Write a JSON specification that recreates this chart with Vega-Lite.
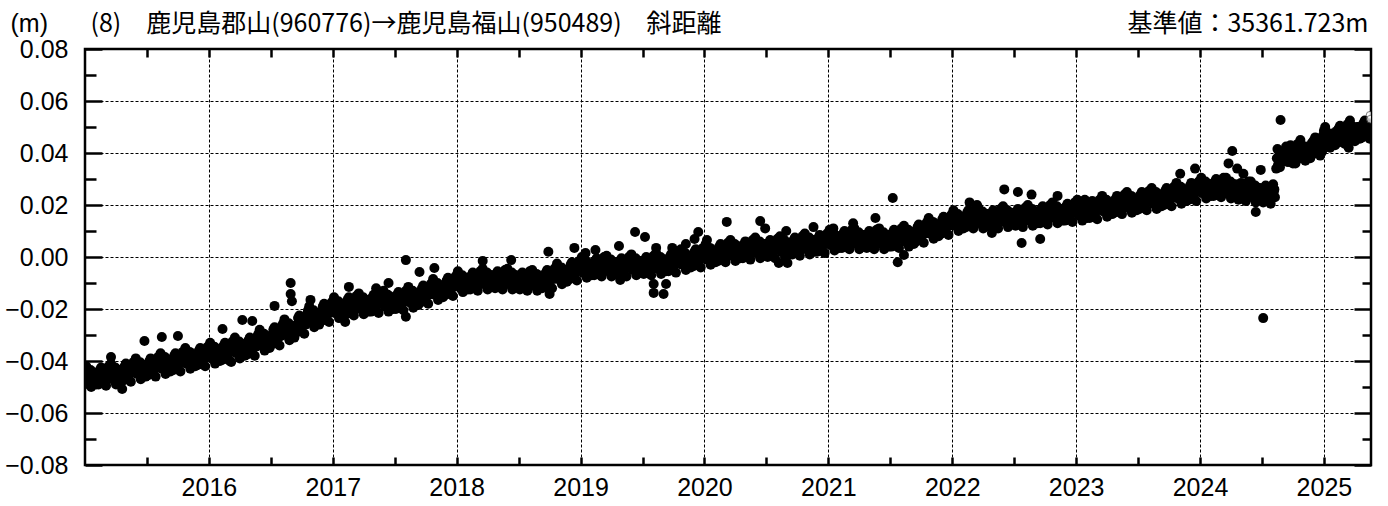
{
"$schema":"https://vega.github.io/schema/vega-lite/v6.json",
"width":1286,"height":416,
"autosize":{"type":"none"},
"padding":{"left":85,"top":49,"right":17,"bottom":41},
"background":"white",
"config":{"view":{"stroke":"black","strokeWidth":2.5}},
"datasets":{"d":[
{"t":2015.00,"v":-0.0435},{"t":2015.02,"v":-0.048},{"t":2015.04,"v":-0.0455},{"t":2015.06,"v":-0.0485},{"t":2015.08,"v":-0.0445},
{"t":2015.10,"v":-0.0465},{"t":2015.12,"v":-0.0435},{"t":2015.14,"v":-0.0485},{"t":2015.16,"v":-0.0445},{"t":2015.18,"v":-0.046},
{"t":2015.20,"v":-0.0425},{"t":2015.22,"v":-0.047},{"t":2015.24,"v":-0.0445},{"t":2015.26,"v":-0.0475},{"t":2015.28,"v":-0.0435},
{"t":2015.30,"v":-0.045},{"t":2015.32,"v":-0.042},{"t":2015.34,"v":-0.047},{"t":2015.36,"v":-0.043},{"t":2015.38,"v":-0.0445},
{"t":2015.40,"v":-0.0405},{"t":2015.42,"v":-0.045},{"t":2015.44,"v":-0.0425},{"t":2015.46,"v":-0.0455},{"t":2015.48,"v":-0.0415},
{"t":2015.50,"v":-0.043},{"t":2015.52,"v":-0.040},{"t":2015.54,"v":-0.045},{"t":2015.56,"v":-0.041},{"t":2015.58,"v":-0.0425},
{"t":2015.60,"v":-0.0385},{"t":2015.62,"v":-0.043},{"t":2015.64,"v":-0.0405},{"t":2015.66,"v":-0.0435},{"t":2015.68,"v":-0.0395},
{"t":2015.70,"v":-0.041},{"t":2015.72,"v":-0.038},{"t":2015.74,"v":-0.043},{"t":2015.76,"v":-0.039},{"t":2015.78,"v":-0.0405},
{"t":2015.80,"v":-0.0365},{"t":2015.82,"v":-0.041},{"t":2015.84,"v":-0.0385},{"t":2015.86,"v":-0.0415},{"t":2015.88,"v":-0.0375},
{"t":2015.90,"v":-0.039},{"t":2015.92,"v":-0.036},{"t":2015.94,"v":-0.041},{"t":2015.96,"v":-0.037},{"t":2015.98,"v":-0.0385},
{"t":2016.00,"v":-0.0345},{"t":2016.02,"v":-0.039},{"t":2016.04,"v":-0.0365},{"t":2016.06,"v":-0.0395},{"t":2016.08,"v":-0.0355},
{"t":2016.10,"v":-0.037},{"t":2016.12,"v":-0.034},{"t":2016.14,"v":-0.039},{"t":2016.16,"v":-0.035},{"t":2016.18,"v":-0.0365},
{"t":2016.20,"v":-0.0325},{"t":2016.22,"v":-0.037},{"t":2016.24,"v":-0.0345},{"t":2016.26,"v":-0.0375},{"t":2016.28,"v":-0.0335},
{"t":2016.30,"v":-0.035},{"t":2016.32,"v":-0.032},{"t":2016.34,"v":-0.037},{"t":2016.36,"v":-0.033},{"t":2016.38,"v":-0.0345},
{"t":2016.40,"v":-0.0295},{"t":2016.42,"v":-0.034},{"t":2016.44,"v":-0.0315},{"t":2016.46,"v":-0.0345},{"t":2016.48,"v":-0.0305},
{"t":2016.50,"v":-0.031},{"t":2016.52,"v":-0.028},{"t":2016.54,"v":-0.033},{"t":2016.56,"v":-0.029},{"t":2016.58,"v":-0.0305},
{"t":2016.60,"v":-0.0255},{"t":2016.62,"v":-0.030},{"t":2016.64,"v":-0.0275},{"t":2016.66,"v":-0.0305},{"t":2016.68,"v":-0.0265},
{"t":2016.70,"v":-0.0265},{"t":2016.72,"v":-0.0235},{"t":2016.74,"v":-0.0285},{"t":2016.76,"v":-0.0245},{"t":2016.78,"v":-0.026},
{"t":2016.80,"v":-0.0205},{"t":2016.82,"v":-0.025},{"t":2016.84,"v":-0.0225},{"t":2016.86,"v":-0.0255},{"t":2016.88,"v":-0.0215},
{"t":2016.90,"v":-0.022},{"t":2016.92,"v":-0.019},{"t":2016.94,"v":-0.024},{"t":2016.96,"v":-0.020},{"t":2016.98,"v":-0.0215},
{"t":2017.00,"v":-0.017},{"t":2017.02,"v":-0.0215},{"t":2017.04,"v":-0.019},{"t":2017.06,"v":-0.022},{"t":2017.08,"v":-0.018},
{"t":2017.10,"v":-0.0195},{"t":2017.12,"v":-0.0165},{"t":2017.14,"v":-0.0215},{"t":2017.16,"v":-0.0175},{"t":2017.18,"v":-0.019},
{"t":2017.20,"v":-0.0155},{"t":2017.22,"v":-0.020},{"t":2017.24,"v":-0.0175},{"t":2017.26,"v":-0.0205},{"t":2017.28,"v":-0.0165},
{"t":2017.30,"v":-0.0185},{"t":2017.32,"v":-0.0155},{"t":2017.34,"v":-0.0205},{"t":2017.36,"v":-0.0165},{"t":2017.38,"v":-0.018},
{"t":2017.40,"v":-0.0145},{"t":2017.42,"v":-0.019},{"t":2017.44,"v":-0.0165},{"t":2017.46,"v":-0.0195},{"t":2017.48,"v":-0.0155},
{"t":2017.50,"v":-0.0175},{"t":2017.52,"v":-0.0145},{"t":2017.54,"v":-0.0195},{"t":2017.56,"v":-0.0155},{"t":2017.58,"v":-0.017},
{"t":2017.60,"v":-0.013},{"t":2017.62,"v":-0.0175},{"t":2017.64,"v":-0.015},{"t":2017.66,"v":-0.018},{"t":2017.68,"v":-0.014},
{"t":2017.70,"v":-0.015},{"t":2017.72,"v":-0.012},{"t":2017.74,"v":-0.017},{"t":2017.76,"v":-0.013},{"t":2017.78,"v":-0.0145},
{"t":2017.80,"v":-0.010},{"t":2017.82,"v":-0.0145},{"t":2017.84,"v":-0.012},{"t":2017.86,"v":-0.015},{"t":2017.88,"v":-0.011},
{"t":2017.90,"v":-0.012},{"t":2017.92,"v":-0.009},{"t":2017.94,"v":-0.014},{"t":2017.96,"v":-0.010},{"t":2017.98,"v":-0.0115},
{"t":2018.00,"v":-0.007},{"t":2018.02,"v":-0.0115},{"t":2018.04,"v":-0.009},{"t":2018.06,"v":-0.012},{"t":2018.08,"v":-0.008},
{"t":2018.10,"v":-0.010},{"t":2018.12,"v":-0.007},{"t":2018.14,"v":-0.012},{"t":2018.16,"v":-0.008},{"t":2018.18,"v":-0.0095},
{"t":2018.20,"v":-0.006},{"t":2018.22,"v":-0.0105},{"t":2018.24,"v":-0.008},{"t":2018.26,"v":-0.011},{"t":2018.28,"v":-0.007},
{"t":2018.30,"v":-0.0095},{"t":2018.32,"v":-0.0065},{"t":2018.34,"v":-0.0115},{"t":2018.36,"v":-0.0075},{"t":2018.38,"v":-0.009},
{"t":2018.40,"v":-0.006},{"t":2018.42,"v":-0.0105},{"t":2018.44,"v":-0.008},{"t":2018.46,"v":-0.011},{"t":2018.48,"v":-0.007},
{"t":2018.50,"v":-0.010},{"t":2018.52,"v":-0.007},{"t":2018.54,"v":-0.012},{"t":2018.56,"v":-0.008},{"t":2018.58,"v":-0.0095},
{"t":2018.60,"v":-0.0065},{"t":2018.62,"v":-0.011},{"t":2018.64,"v":-0.0085},{"t":2018.66,"v":-0.0115},{"t":2018.68,"v":-0.0075},
{"t":2018.70,"v":-0.009},{"t":2018.72,"v":-0.006},{"t":2018.74,"v":-0.011},{"t":2018.76,"v":-0.007},{"t":2018.78,"v":-0.0085},
{"t":2018.80,"v":-0.004},{"t":2018.82,"v":-0.0085},{"t":2018.84,"v":-0.006},{"t":2018.86,"v":-0.009},{"t":2018.88,"v":-0.005},
{"t":2018.90,"v":-0.006},{"t":2018.92,"v":-0.003},{"t":2018.94,"v":-0.008},{"t":2018.96,"v":-0.004},{"t":2018.98,"v":-0.0055},
{"t":2019.00,"v":-0.0015},{"t":2019.02,"v":-0.006},{"t":2019.04,"v":-0.0035},{"t":2019.06,"v":-0.0065},{"t":2019.08,"v":-0.0025},
{"t":2019.10,"v":-0.0045},{"t":2019.12,"v":-0.0015},{"t":2019.14,"v":-0.0065},{"t":2019.16,"v":-0.0025},{"t":2019.18,"v":-0.004},
{"t":2019.20,"v":-0.001},{"t":2019.22,"v":-0.0055},{"t":2019.24,"v":-0.003},{"t":2019.26,"v":-0.006},{"t":2019.28,"v":-0.002},
{"t":2019.30,"v":-0.0045},{"t":2019.32,"v":-0.0015},{"t":2019.34,"v":-0.0065},{"t":2019.36,"v":-0.0025},{"t":2019.38,"v":-0.004},
{"t":2019.40,"v":-0.0005},{"t":2019.42,"v":-0.005},{"t":2019.44,"v":-0.0025},{"t":2019.46,"v":-0.0055},{"t":2019.48,"v":-0.0015},
{"t":2019.50,"v":-0.004},{"t":2019.52,"v":-0.001},{"t":2019.54,"v":-0.006},{"t":2019.56,"v":-0.002},{"t":2019.58,"v":-0.0035},
{"t":2019.60,"v":0.0},{"t":2019.62,"v":-0.0045},{"t":2019.64,"v":-0.002},{"t":2019.66,"v":-0.005},{"t":2019.68,"v":-0.001},
{"t":2019.70,"v":-0.003},{"t":2019.72,"v":0.0},{"t":2019.74,"v":-0.005},{"t":2019.76,"v":-0.001},{"t":2019.78,"v":-0.0025},
{"t":2019.80,"v":0.0015},{"t":2019.82,"v":-0.003},{"t":2019.84,"v":-0.0005},{"t":2019.86,"v":-0.0035},{"t":2019.88,"v":0.0005},
{"t":2019.90,"v":-0.001},{"t":2019.92,"v":0.002},{"t":2019.94,"v":-0.003},{"t":2019.96,"v":0.001},{"t":2019.98,"v":-0.0005},
{"t":2020.00,"v":0.0035},{"t":2020.02,"v":-0.001},{"t":2020.04,"v":0.0015},{"t":2020.06,"v":-0.0015},{"t":2020.08,"v":0.0025},
{"t":2020.10,"v":0.001},{"t":2020.12,"v":0.004},{"t":2020.14,"v":-0.001},{"t":2020.16,"v":0.003},{"t":2020.18,"v":0.0015},
{"t":2020.20,"v":0.005},{"t":2020.22,"v":0.0005},{"t":2020.24,"v":0.003},{"t":2020.26,"v":0.0},{"t":2020.28,"v":0.004},
{"t":2020.30,"v":0.002},{"t":2020.32,"v":0.005},{"t":2020.34,"v":0.0},{"t":2020.36,"v":0.004},{"t":2020.38,"v":0.0025},
{"t":2020.40,"v":0.006},{"t":2020.42,"v":0.0015},{"t":2020.44,"v":0.004},{"t":2020.46,"v":0.001},{"t":2020.48,"v":0.005},
{"t":2020.50,"v":0.0025},{"t":2020.52,"v":0.0055},{"t":2020.54,"v":0.0005},{"t":2020.56,"v":0.0045},{"t":2020.58,"v":0.003},
{"t":2020.60,"v":0.0065},{"t":2020.62,"v":0.002},{"t":2020.64,"v":0.0045},{"t":2020.66,"v":0.0015},{"t":2020.68,"v":0.0055},
{"t":2020.70,"v":0.0035},{"t":2020.72,"v":0.0065},{"t":2020.74,"v":0.0015},{"t":2020.76,"v":0.0055},{"t":2020.78,"v":0.004},
{"t":2020.80,"v":0.0075},{"t":2020.82,"v":0.003},{"t":2020.84,"v":0.0055},{"t":2020.86,"v":0.0025},{"t":2020.88,"v":0.0065},
{"t":2020.90,"v":0.0045},{"t":2020.92,"v":0.0075},{"t":2020.94,"v":0.0025},{"t":2020.96,"v":0.0065},{"t":2020.98,"v":0.005},
{"t":2021.00,"v":0.009},{"t":2021.02,"v":0.0045},{"t":2021.04,"v":0.007},{"t":2021.06,"v":0.004},{"t":2021.08,"v":0.008},
{"t":2021.10,"v":0.006},{"t":2021.12,"v":0.009},{"t":2021.14,"v":0.004},{"t":2021.16,"v":0.008},{"t":2021.18,"v":0.0065},
{"t":2021.20,"v":0.0095},{"t":2021.22,"v":0.005},{"t":2021.24,"v":0.0075},{"t":2021.26,"v":0.0045},{"t":2021.28,"v":0.0085},
{"t":2021.30,"v":0.006},{"t":2021.32,"v":0.009},{"t":2021.34,"v":0.004},{"t":2021.36,"v":0.008},{"t":2021.38,"v":0.0065},
{"t":2021.40,"v":0.0095},{"t":2021.42,"v":0.005},{"t":2021.44,"v":0.0075},{"t":2021.46,"v":0.0045},{"t":2021.48,"v":0.0085},
{"t":2021.50,"v":0.0065},{"t":2021.52,"v":0.0095},{"t":2021.54,"v":0.0045},{"t":2021.56,"v":0.0085},{"t":2021.58,"v":0.007},
{"t":2021.60,"v":0.0105},{"t":2021.62,"v":0.006},{"t":2021.64,"v":0.0085},{"t":2021.66,"v":0.0055},{"t":2021.68,"v":0.0095},
{"t":2021.70,"v":0.0085},{"t":2021.72,"v":0.0115},{"t":2021.74,"v":0.0065},{"t":2021.76,"v":0.0105},{"t":2021.78,"v":0.009},
{"t":2021.80,"v":0.0135},{"t":2021.82,"v":0.009},{"t":2021.84,"v":0.0115},{"t":2021.86,"v":0.0085},{"t":2021.88,"v":0.0125},
{"t":2021.90,"v":0.0115},{"t":2021.92,"v":0.0145},{"t":2021.94,"v":0.0095},{"t":2021.96,"v":0.0135},{"t":2021.98,"v":0.012},
{"t":2022.00,"v":0.0165},{"t":2022.02,"v":0.012},{"t":2022.04,"v":0.0145},{"t":2022.06,"v":0.0115},{"t":2022.08,"v":0.0155},
{"t":2022.10,"v":0.014},{"t":2022.12,"v":0.017},{"t":2022.14,"v":0.012},{"t":2022.16,"v":0.016},{"t":2022.18,"v":0.0145},
{"t":2022.20,"v":0.0175},{"t":2022.22,"v":0.013},{"t":2022.24,"v":0.0155},{"t":2022.26,"v":0.0125},{"t":2022.28,"v":0.0165},
{"t":2022.30,"v":0.014},{"t":2022.32,"v":0.017},{"t":2022.34,"v":0.012},{"t":2022.36,"v":0.016},{"t":2022.38,"v":0.0145},
{"t":2022.40,"v":0.018},{"t":2022.42,"v":0.0135},{"t":2022.44,"v":0.016},{"t":2022.46,"v":0.013},{"t":2022.48,"v":0.017},
{"t":2022.50,"v":0.0145},{"t":2022.52,"v":0.0175},{"t":2022.54,"v":0.0125},{"t":2022.56,"v":0.0165},{"t":2022.58,"v":0.015},
{"t":2022.60,"v":0.0185},{"t":2022.62,"v":0.014},{"t":2022.64,"v":0.0165},{"t":2022.66,"v":0.0135},{"t":2022.68,"v":0.0175},
{"t":2022.70,"v":0.0155},{"t":2022.72,"v":0.0185},{"t":2022.74,"v":0.0135},{"t":2022.76,"v":0.0175},{"t":2022.78,"v":0.016},
{"t":2022.80,"v":0.0195},{"t":2022.82,"v":0.015},{"t":2022.84,"v":0.0175},{"t":2022.86,"v":0.0145},{"t":2022.88,"v":0.0185},
{"t":2022.90,"v":0.0165},{"t":2022.92,"v":0.0195},{"t":2022.94,"v":0.0145},{"t":2022.96,"v":0.0185},{"t":2022.98,"v":0.017},
{"t":2023.00,"v":0.0205},{"t":2023.02,"v":0.016},{"t":2023.04,"v":0.0185},{"t":2023.06,"v":0.0155},{"t":2023.08,"v":0.0195},
{"t":2023.10,"v":0.0175},{"t":2023.12,"v":0.0205},{"t":2023.14,"v":0.0155},{"t":2023.16,"v":0.0195},{"t":2023.18,"v":0.018},
{"t":2023.20,"v":0.022},{"t":2023.22,"v":0.0175},{"t":2023.24,"v":0.020},{"t":2023.26,"v":0.017},{"t":2023.28,"v":0.021},
{"t":2023.30,"v":0.0195},{"t":2023.32,"v":0.0225},{"t":2023.34,"v":0.0175},{"t":2023.36,"v":0.0215},{"t":2023.38,"v":0.020},
{"t":2023.40,"v":0.0235},{"t":2023.42,"v":0.019},{"t":2023.44,"v":0.0215},{"t":2023.46,"v":0.0185},{"t":2023.48,"v":0.0225},
{"t":2023.50,"v":0.021},{"t":2023.52,"v":0.024},{"t":2023.54,"v":0.019},{"t":2023.56,"v":0.023},{"t":2023.58,"v":0.0215},
{"t":2023.60,"v":0.025},{"t":2023.62,"v":0.0205},{"t":2023.64,"v":0.023},{"t":2023.66,"v":0.020},{"t":2023.68,"v":0.024},
{"t":2023.70,"v":0.0225},{"t":2023.72,"v":0.0255},{"t":2023.74,"v":0.0205},{"t":2023.76,"v":0.0245},{"t":2023.78,"v":0.023},
{"t":2023.80,"v":0.027},{"t":2023.82,"v":0.0225},{"t":2023.84,"v":0.025},{"t":2023.86,"v":0.022},{"t":2023.88,"v":0.026},
{"t":2023.90,"v":0.0245},{"t":2023.92,"v":0.0275},{"t":2023.94,"v":0.0225},{"t":2023.96,"v":0.0265},{"t":2023.98,"v":0.025},
{"t":2024.00,"v":0.029},{"t":2024.02,"v":0.0245},{"t":2024.04,"v":0.027},{"t":2024.06,"v":0.024},{"t":2024.08,"v":0.028},
{"t":2024.10,"v":0.026},{"t":2024.12,"v":0.029},{"t":2024.14,"v":0.024},{"t":2024.16,"v":0.028},{"t":2024.18,"v":0.0265},
{"t":2024.20,"v":0.029},{"t":2024.22,"v":0.0245},{"t":2024.24,"v":0.027},{"t":2024.26,"v":0.024},{"t":2024.28,"v":0.028},
{"t":2024.30,"v":0.0245},{"t":2024.32,"v":0.0275},{"t":2024.34,"v":0.0225},{"t":2024.36,"v":0.0265},{"t":2024.38,"v":0.025},
{"t":2024.40,"v":0.0275},{"t":2024.42,"v":0.023},{"t":2024.44,"v":0.0255},{"t":2024.46,"v":0.0225},{"t":2024.48,"v":0.0265},
{"t":2024.50,"v":0.0235},{"t":2024.52,"v":0.0265},{"t":2024.54,"v":0.0215},{"t":2024.56,"v":0.0255},{"t":2024.58,"v":0.024},
{"t":2024.60,"v":0.026},{"t":2024.605,"v":0.023},
{"t":2024.615,"v":0.034},{"t":2024.62,"v":0.038},{"t":2024.63,"v":0.0355},{"t":2024.64,"v":0.039},{"t":2024.66,"v":0.0365},{"t":2024.68,"v":0.0405},
{"t":2024.70,"v":0.039},{"t":2024.72,"v":0.042},{"t":2024.74,"v":0.037},{"t":2024.76,"v":0.041},{"t":2024.78,"v":0.0395},
{"t":2024.80,"v":0.0435},{"t":2024.82,"v":0.039},{"t":2024.84,"v":0.0415},{"t":2024.86,"v":0.0385},{"t":2024.88,"v":0.0425},
{"t":2024.90,"v":0.042},{"t":2024.92,"v":0.045},{"t":2024.94,"v":0.040},{"t":2024.96,"v":0.044},{"t":2024.98,"v":0.0425},
{"t":2025.00,"v":0.0485},{"t":2025.02,"v":0.044},{"t":2025.04,"v":0.0465},{"t":2025.06,"v":0.0435},{"t":2025.08,"v":0.0475},
{"t":2025.10,"v":0.0465},{"t":2025.12,"v":0.0495},{"t":2025.14,"v":0.0445},{"t":2025.16,"v":0.0485},{"t":2025.18,"v":0.047},
{"t":2025.20,"v":0.051},{"t":2025.22,"v":0.0465},{"t":2025.24,"v":0.049},{"t":2025.26,"v":0.046},{"t":2025.28,"v":0.050},
{"t":2025.30,"v":0.0485},{"t":2025.32,"v":0.0515},{"t":2025.34,"v":0.0465},{"t":2025.36,"v":0.0505},{"t":2025.37,"v":0.0485},
{"t":2015.01,"v":-0.042},{"t":2015.03,"v":-0.047},{"t":2015.05,"v":-0.050},{"t":2015.07,"v":-0.0445},{"t":2015.09,"v":-0.049},
{"t":2015.11,"v":-0.049},{"t":2015.13,"v":-0.0425},{"t":2015.15,"v":-0.0455},{"t":2015.17,"v":-0.0495},{"t":2015.19,"v":-0.042},
{"t":2015.21,"v":-0.041},{"t":2015.23,"v":-0.046},{"t":2015.25,"v":-0.049},{"t":2015.27,"v":-0.0435},{"t":2015.29,"v":-0.048},
{"t":2015.31,"v":-0.0475},{"t":2015.33,"v":-0.041},{"t":2015.35,"v":-0.044},{"t":2015.37,"v":-0.048},{"t":2015.39,"v":-0.0405},
{"t":2015.41,"v":-0.039},{"t":2015.43,"v":-0.044},{"t":2015.45,"v":-0.047},{"t":2015.47,"v":-0.0415},{"t":2015.49,"v":-0.046},
{"t":2015.51,"v":-0.0455},{"t":2015.53,"v":-0.039},{"t":2015.55,"v":-0.042},{"t":2015.57,"v":-0.046},{"t":2015.59,"v":-0.0385},
{"t":2015.61,"v":-0.037},{"t":2015.63,"v":-0.042},{"t":2015.65,"v":-0.045},{"t":2015.67,"v":-0.0395},{"t":2015.69,"v":-0.044},
{"t":2015.71,"v":-0.0435},{"t":2015.73,"v":-0.037},{"t":2015.75,"v":-0.040},{"t":2015.77,"v":-0.044},{"t":2015.79,"v":-0.0365},
{"t":2015.81,"v":-0.035},{"t":2015.83,"v":-0.040},{"t":2015.85,"v":-0.043},{"t":2015.87,"v":-0.0375},{"t":2015.89,"v":-0.042},
{"t":2015.91,"v":-0.0415},{"t":2015.93,"v":-0.035},{"t":2015.95,"v":-0.038},{"t":2015.97,"v":-0.042},{"t":2015.99,"v":-0.0345},
{"t":2016.01,"v":-0.033},{"t":2016.03,"v":-0.038},{"t":2016.05,"v":-0.041},{"t":2016.07,"v":-0.0355},{"t":2016.09,"v":-0.040},
{"t":2016.11,"v":-0.0395},{"t":2016.13,"v":-0.033},{"t":2016.15,"v":-0.036},{"t":2016.17,"v":-0.040},{"t":2016.19,"v":-0.0325},
{"t":2016.21,"v":-0.031},{"t":2016.23,"v":-0.036},{"t":2016.25,"v":-0.039},{"t":2016.27,"v":-0.0335},{"t":2016.29,"v":-0.038},
{"t":2016.31,"v":-0.0375},{"t":2016.33,"v":-0.031},{"t":2016.35,"v":-0.034},{"t":2016.37,"v":-0.038},{"t":2016.39,"v":-0.0305},
{"t":2016.41,"v":-0.028},{"t":2016.43,"v":-0.033},{"t":2016.45,"v":-0.036},{"t":2016.47,"v":-0.0305},{"t":2016.49,"v":-0.035},
{"t":2016.51,"v":-0.0335},{"t":2016.53,"v":-0.027},{"t":2016.55,"v":-0.030},{"t":2016.57,"v":-0.034},{"t":2016.59,"v":-0.0265},
{"t":2016.61,"v":-0.024},{"t":2016.63,"v":-0.029},{"t":2016.65,"v":-0.032},{"t":2016.67,"v":-0.0265},{"t":2016.69,"v":-0.031},
{"t":2016.71,"v":-0.029},{"t":2016.73,"v":-0.0225},{"t":2016.75,"v":-0.0255},{"t":2016.77,"v":-0.0295},{"t":2016.79,"v":-0.022},
{"t":2016.81,"v":-0.019},{"t":2016.83,"v":-0.024},{"t":2016.85,"v":-0.027},{"t":2016.87,"v":-0.0215},{"t":2016.89,"v":-0.026},
{"t":2016.91,"v":-0.0245},{"t":2016.93,"v":-0.018},{"t":2016.95,"v":-0.021},{"t":2016.97,"v":-0.025},{"t":2016.99,"v":-0.0175},
{"t":2017.01,"v":-0.0155},{"t":2017.03,"v":-0.0205},{"t":2017.05,"v":-0.0235},{"t":2017.07,"v":-0.018},{"t":2017.09,"v":-0.0225},
{"t":2017.11,"v":-0.022},{"t":2017.13,"v":-0.0155},{"t":2017.15,"v":-0.0185},{"t":2017.17,"v":-0.0225},{"t":2017.19,"v":-0.015},
{"t":2017.21,"v":-0.014},{"t":2017.23,"v":-0.019},{"t":2017.25,"v":-0.022},{"t":2017.27,"v":-0.0165},{"t":2017.29,"v":-0.021},
{"t":2017.31,"v":-0.021},{"t":2017.33,"v":-0.0145},{"t":2017.35,"v":-0.0175},{"t":2017.37,"v":-0.0215},{"t":2017.39,"v":-0.014},
{"t":2017.41,"v":-0.013},{"t":2017.43,"v":-0.018},{"t":2017.45,"v":-0.021},{"t":2017.47,"v":-0.0155},{"t":2017.49,"v":-0.020},
{"t":2017.51,"v":-0.020},{"t":2017.53,"v":-0.0135},{"t":2017.55,"v":-0.0165},{"t":2017.57,"v":-0.0205},{"t":2017.59,"v":-0.013},
{"t":2017.61,"v":-0.0115},{"t":2017.63,"v":-0.0165},{"t":2017.65,"v":-0.0195},{"t":2017.67,"v":-0.014},{"t":2017.69,"v":-0.0185},
{"t":2017.71,"v":-0.0175},{"t":2017.73,"v":-0.011},{"t":2017.75,"v":-0.014},{"t":2017.77,"v":-0.018},{"t":2017.79,"v":-0.0105},
{"t":2017.81,"v":-0.0085},{"t":2017.83,"v":-0.0135},{"t":2017.85,"v":-0.0165},{"t":2017.87,"v":-0.011},{"t":2017.89,"v":-0.0155},
{"t":2017.91,"v":-0.0145},{"t":2017.93,"v":-0.008},{"t":2017.95,"v":-0.011},{"t":2017.97,"v":-0.015},{"t":2017.99,"v":-0.0075},
{"t":2018.01,"v":-0.0055},{"t":2018.03,"v":-0.0105},{"t":2018.05,"v":-0.0135},{"t":2018.07,"v":-0.008},{"t":2018.09,"v":-0.0125},
{"t":2018.11,"v":-0.0125},{"t":2018.13,"v":-0.006},{"t":2018.15,"v":-0.009},{"t":2018.17,"v":-0.013},{"t":2018.19,"v":-0.0055},
{"t":2018.21,"v":-0.0045},{"t":2018.23,"v":-0.0095},{"t":2018.25,"v":-0.0125},{"t":2018.27,"v":-0.007},{"t":2018.29,"v":-0.0115},
{"t":2018.31,"v":-0.012},{"t":2018.33,"v":-0.0055},{"t":2018.35,"v":-0.0085},{"t":2018.37,"v":-0.0125},{"t":2018.39,"v":-0.005},
{"t":2018.41,"v":-0.0045},{"t":2018.43,"v":-0.0095},{"t":2018.45,"v":-0.0125},{"t":2018.47,"v":-0.007},{"t":2018.49,"v":-0.0115},
{"t":2018.51,"v":-0.0125},{"t":2018.53,"v":-0.006},{"t":2018.55,"v":-0.009},{"t":2018.57,"v":-0.013},{"t":2018.59,"v":-0.0055},
{"t":2018.61,"v":-0.005},{"t":2018.63,"v":-0.010},{"t":2018.65,"v":-0.013},{"t":2018.67,"v":-0.0075},{"t":2018.69,"v":-0.012},
{"t":2018.71,"v":-0.0115},{"t":2018.73,"v":-0.005},{"t":2018.75,"v":-0.008},{"t":2018.77,"v":-0.012},{"t":2018.79,"v":-0.0045},
{"t":2018.81,"v":-0.0025},{"t":2018.83,"v":-0.0075},{"t":2018.85,"v":-0.0105},{"t":2018.87,"v":-0.005},{"t":2018.89,"v":-0.0095},
{"t":2018.91,"v":-0.0085},{"t":2018.93,"v":-0.002},{"t":2018.95,"v":-0.005},{"t":2018.97,"v":-0.009},{"t":2018.99,"v":-0.0015},
{"t":2019.01,"v":0.0},{"t":2019.03,"v":-0.005},{"t":2019.05,"v":-0.008},{"t":2019.07,"v":-0.0025},{"t":2019.09,"v":-0.007},
{"t":2019.11,"v":-0.007},{"t":2019.13,"v":-0.0005},{"t":2019.15,"v":-0.0035},{"t":2019.17,"v":-0.0075},{"t":2019.19,"v":0.0},
{"t":2019.21,"v":0.0005},{"t":2019.23,"v":-0.0045},{"t":2019.25,"v":-0.0075},{"t":2019.27,"v":-0.002},{"t":2019.29,"v":-0.0065},
{"t":2019.31,"v":-0.007},{"t":2019.33,"v":-0.0005},{"t":2019.35,"v":-0.0035},{"t":2019.37,"v":-0.0075},{"t":2019.39,"v":0.0},
{"t":2019.41,"v":0.001},{"t":2019.43,"v":-0.004},{"t":2019.45,"v":-0.007},{"t":2019.47,"v":-0.0015},{"t":2019.49,"v":-0.006},
{"t":2019.51,"v":-0.0065},{"t":2019.53,"v":0.0},{"t":2019.55,"v":-0.003},{"t":2019.57,"v":-0.007},{"t":2019.59,"v":0.0005},
{"t":2019.61,"v":0.0015},{"t":2019.63,"v":-0.0035},{"t":2019.65,"v":-0.0065},{"t":2019.67,"v":-0.001},{"t":2019.69,"v":-0.0055},
{"t":2019.71,"v":-0.0055},{"t":2019.73,"v":0.001},{"t":2019.75,"v":-0.002},{"t":2019.77,"v":-0.006},{"t":2019.79,"v":0.0015},
{"t":2019.81,"v":0.003},{"t":2019.83,"v":-0.002},{"t":2019.85,"v":-0.005},{"t":2019.87,"v":0.0005},{"t":2019.89,"v":-0.004},
{"t":2019.91,"v":-0.0035},{"t":2019.93,"v":0.003},{"t":2019.95,"v":0.0},{"t":2019.97,"v":-0.004},{"t":2019.99,"v":0.0035},
{"t":2020.01,"v":0.005},{"t":2020.03,"v":0.0},{"t":2020.05,"v":-0.003},{"t":2020.07,"v":0.0025},{"t":2020.09,"v":-0.002},
{"t":2020.11,"v":-0.0015},{"t":2020.13,"v":0.005},{"t":2020.15,"v":0.002},{"t":2020.17,"v":-0.002},{"t":2020.19,"v":0.0055},
{"t":2020.21,"v":0.0065},{"t":2020.23,"v":0.0015},{"t":2020.25,"v":-0.0015},{"t":2020.27,"v":0.004},{"t":2020.29,"v":-0.0005},
{"t":2020.31,"v":-0.0005},{"t":2020.33,"v":0.006},{"t":2020.35,"v":0.003},{"t":2020.37,"v":-0.001},{"t":2020.39,"v":0.0065},
{"t":2020.41,"v":0.0075},{"t":2020.43,"v":0.0025},{"t":2020.45,"v":-0.0005},{"t":2020.47,"v":0.005},{"t":2020.49,"v":0.0005},
{"t":2020.51,"v":0.0},{"t":2020.53,"v":0.0065},{"t":2020.55,"v":0.0035},{"t":2020.57,"v":-0.0005},{"t":2020.59,"v":0.007},
{"t":2020.61,"v":0.008},{"t":2020.63,"v":0.003},{"t":2020.65,"v":0.0},{"t":2020.67,"v":0.0055},{"t":2020.69,"v":0.001},
{"t":2020.71,"v":0.001},{"t":2020.73,"v":0.0075},{"t":2020.75,"v":0.0045},{"t":2020.77,"v":0.0005},{"t":2020.79,"v":0.008},
{"t":2020.81,"v":0.009},{"t":2020.83,"v":0.004},{"t":2020.85,"v":0.001},{"t":2020.87,"v":0.0065},{"t":2020.89,"v":0.002},
{"t":2020.91,"v":0.002},{"t":2020.93,"v":0.0085},{"t":2020.95,"v":0.0055},{"t":2020.97,"v":0.0015},{"t":2020.99,"v":0.009},
{"t":2021.01,"v":0.0105},{"t":2021.03,"v":0.0055},{"t":2021.05,"v":0.0025},{"t":2021.07,"v":0.008},{"t":2021.09,"v":0.0035},
{"t":2021.11,"v":0.0035},{"t":2021.13,"v":0.010},{"t":2021.15,"v":0.007},{"t":2021.17,"v":0.003},{"t":2021.19,"v":0.0105},
{"t":2021.21,"v":0.011},{"t":2021.23,"v":0.006},{"t":2021.25,"v":0.003},{"t":2021.27,"v":0.0085},{"t":2021.29,"v":0.004},
{"t":2021.31,"v":0.0035},{"t":2021.33,"v":0.010},{"t":2021.35,"v":0.007},{"t":2021.37,"v":0.003},{"t":2021.39,"v":0.0105},
{"t":2021.41,"v":0.011},{"t":2021.43,"v":0.006},{"t":2021.45,"v":0.003},{"t":2021.47,"v":0.0085},{"t":2021.49,"v":0.004},
{"t":2021.51,"v":0.004},{"t":2021.53,"v":0.0105},{"t":2021.55,"v":0.0075},{"t":2021.57,"v":0.0035},{"t":2021.59,"v":0.011},
{"t":2021.61,"v":0.012},{"t":2021.63,"v":0.007},{"t":2021.65,"v":0.004},{"t":2021.67,"v":0.0095},{"t":2021.69,"v":0.005},
{"t":2021.71,"v":0.006},{"t":2021.73,"v":0.0125},{"t":2021.75,"v":0.0095},{"t":2021.77,"v":0.0055},{"t":2021.79,"v":0.013},
{"t":2021.81,"v":0.015},{"t":2021.83,"v":0.010},{"t":2021.85,"v":0.007},{"t":2021.87,"v":0.0125},{"t":2021.89,"v":0.008},
{"t":2021.91,"v":0.009},{"t":2021.93,"v":0.0155},{"t":2021.95,"v":0.0125},{"t":2021.97,"v":0.0085},{"t":2021.99,"v":0.016},
{"t":2022.01,"v":0.018},{"t":2022.03,"v":0.013},{"t":2022.05,"v":0.010},{"t":2022.07,"v":0.0155},{"t":2022.09,"v":0.011},
{"t":2022.11,"v":0.0115},{"t":2022.13,"v":0.018},{"t":2022.15,"v":0.015},{"t":2022.17,"v":0.011},{"t":2022.19,"v":0.0185},
{"t":2022.21,"v":0.019},{"t":2022.23,"v":0.014},{"t":2022.25,"v":0.011},{"t":2022.27,"v":0.0165},{"t":2022.29,"v":0.012},
{"t":2022.31,"v":0.0115},{"t":2022.33,"v":0.018},{"t":2022.35,"v":0.015},{"t":2022.37,"v":0.011},{"t":2022.39,"v":0.0185},
{"t":2022.41,"v":0.0195},{"t":2022.43,"v":0.0145},{"t":2022.45,"v":0.0115},{"t":2022.47,"v":0.017},{"t":2022.49,"v":0.0125},
{"t":2022.51,"v":0.012},{"t":2022.53,"v":0.0185},{"t":2022.55,"v":0.0155},{"t":2022.57,"v":0.0115},{"t":2022.59,"v":0.019},
{"t":2022.61,"v":0.020},{"t":2022.63,"v":0.015},{"t":2022.65,"v":0.012},{"t":2022.67,"v":0.0175},{"t":2022.69,"v":0.013},
{"t":2022.71,"v":0.013},{"t":2022.73,"v":0.0195},{"t":2022.75,"v":0.0165},{"t":2022.77,"v":0.0125},{"t":2022.79,"v":0.020},
{"t":2022.81,"v":0.021},{"t":2022.83,"v":0.016},{"t":2022.85,"v":0.013},{"t":2022.87,"v":0.0185},{"t":2022.89,"v":0.014},
{"t":2022.91,"v":0.014},{"t":2022.93,"v":0.0205},{"t":2022.95,"v":0.0175},{"t":2022.97,"v":0.0135},{"t":2022.99,"v":0.021},
{"t":2023.01,"v":0.022},{"t":2023.03,"v":0.017},{"t":2023.05,"v":0.014},{"t":2023.07,"v":0.0195},{"t":2023.09,"v":0.015},
{"t":2023.11,"v":0.015},{"t":2023.13,"v":0.0215},{"t":2023.15,"v":0.0185},{"t":2023.17,"v":0.0145},{"t":2023.19,"v":0.022},
{"t":2023.21,"v":0.0235},{"t":2023.23,"v":0.0185},{"t":2023.25,"v":0.0155},{"t":2023.27,"v":0.021},{"t":2023.29,"v":0.0165},
{"t":2023.31,"v":0.017},{"t":2023.33,"v":0.0235},{"t":2023.35,"v":0.0205},{"t":2023.37,"v":0.0165},{"t":2023.39,"v":0.024},
{"t":2023.41,"v":0.025},{"t":2023.43,"v":0.020},{"t":2023.45,"v":0.017},{"t":2023.47,"v":0.0225},{"t":2023.49,"v":0.018},
{"t":2023.51,"v":0.0185},{"t":2023.53,"v":0.025},{"t":2023.55,"v":0.022},{"t":2023.57,"v":0.018},{"t":2023.59,"v":0.0255},
{"t":2023.61,"v":0.0265},{"t":2023.63,"v":0.0215},{"t":2023.65,"v":0.0185},{"t":2023.67,"v":0.024},{"t":2023.69,"v":0.0195},
{"t":2023.71,"v":0.020},{"t":2023.73,"v":0.0265},{"t":2023.75,"v":0.0235},{"t":2023.77,"v":0.0195},{"t":2023.79,"v":0.027},
{"t":2023.81,"v":0.0285},{"t":2023.83,"v":0.0235},{"t":2023.85,"v":0.0205},{"t":2023.87,"v":0.026},{"t":2023.89,"v":0.0215},
{"t":2023.91,"v":0.022},{"t":2023.93,"v":0.0285},{"t":2023.95,"v":0.0255},{"t":2023.97,"v":0.0215},{"t":2023.99,"v":0.029},
{"t":2024.01,"v":0.0305},{"t":2024.03,"v":0.0255},{"t":2024.05,"v":0.0225},{"t":2024.07,"v":0.028},{"t":2024.09,"v":0.0235},
{"t":2024.11,"v":0.0235},{"t":2024.13,"v":0.030},{"t":2024.15,"v":0.027},{"t":2024.17,"v":0.023},{"t":2024.19,"v":0.0305},
{"t":2024.21,"v":0.0305},{"t":2024.23,"v":0.0255},{"t":2024.25,"v":0.0225},{"t":2024.27,"v":0.028},{"t":2024.29,"v":0.0235},
{"t":2024.31,"v":0.022},{"t":2024.33,"v":0.0285},{"t":2024.35,"v":0.0255},{"t":2024.37,"v":0.0215},{"t":2024.39,"v":0.029},
{"t":2024.41,"v":0.029},{"t":2024.43,"v":0.024},{"t":2024.45,"v":0.021},{"t":2024.47,"v":0.0265},{"t":2024.49,"v":0.022},
{"t":2024.51,"v":0.021},{"t":2024.53,"v":0.0275},{"t":2024.55,"v":0.0245},{"t":2024.57,"v":0.0205},{"t":2024.59,"v":0.028},
{"t":2024.71,"v":0.0365},{"t":2024.73,"v":0.043},{"t":2024.75,"v":0.040},{"t":2024.77,"v":0.036},{"t":2024.79,"v":0.0435},
{"t":2024.81,"v":0.045},{"t":2024.83,"v":0.040},{"t":2024.85,"v":0.037},{"t":2024.87,"v":0.0425},{"t":2024.89,"v":0.038},
{"t":2024.91,"v":0.0395},{"t":2024.93,"v":0.046},{"t":2024.95,"v":0.043},{"t":2024.97,"v":0.039},{"t":2024.99,"v":0.0465},
{"t":2025.01,"v":0.050},{"t":2025.03,"v":0.045},{"t":2025.05,"v":0.042},{"t":2025.07,"v":0.0475},{"t":2025.09,"v":0.043},
{"t":2025.11,"v":0.044},{"t":2025.13,"v":0.0505},{"t":2025.15,"v":0.0475},{"t":2025.17,"v":0.0435},{"t":2025.19,"v":0.051},
{"t":2025.21,"v":0.0525},{"t":2025.23,"v":0.0475},{"t":2025.25,"v":0.0445},{"t":2025.27,"v":0.050},{"t":2025.29,"v":0.0455},
{"t":2025.31,"v":0.046},{"t":2025.33,"v":0.0525},{"t":2025.35,"v":0.0495},{"t":2025.37,"v":0.0455},
{"t":2015.005,"v":-0.045},{"t":2015.025,"v":-0.0475},{"t":2015.045,"v":-0.0435},{"t":2015.065,"v":-0.0465},{"t":2015.085,"v":-0.0485},
{"t":2015.105,"v":-0.0465},{"t":2015.125,"v":-0.0435},{"t":2015.145,"v":-0.048},{"t":2015.165,"v":-0.045},{"t":2015.185,"v":-0.044},
{"t":2015.205,"v":-0.044},{"t":2015.225,"v":-0.0465},{"t":2015.245,"v":-0.0425},{"t":2015.265,"v":-0.0455},{"t":2015.285,"v":-0.0475},
{"t":2015.305,"v":-0.045},{"t":2015.325,"v":-0.042},{"t":2015.345,"v":-0.0465},{"t":2015.365,"v":-0.0435},{"t":2015.385,"v":-0.0425},
{"t":2015.405,"v":-0.042},{"t":2015.425,"v":-0.0445},{"t":2015.445,"v":-0.0405},{"t":2015.465,"v":-0.0435},{"t":2015.485,"v":-0.0455},
{"t":2015.505,"v":-0.043},{"t":2015.525,"v":-0.040},{"t":2015.545,"v":-0.0445},{"t":2015.565,"v":-0.0415},{"t":2015.585,"v":-0.0405},
{"t":2015.605,"v":-0.040},{"t":2015.625,"v":-0.0425},{"t":2015.645,"v":-0.0385},{"t":2015.665,"v":-0.0415},{"t":2015.685,"v":-0.0435},
{"t":2015.705,"v":-0.041},{"t":2015.725,"v":-0.038},{"t":2015.745,"v":-0.0425},{"t":2015.765,"v":-0.0395},{"t":2015.785,"v":-0.0385},
{"t":2015.805,"v":-0.038},{"t":2015.825,"v":-0.0405},{"t":2015.845,"v":-0.0365},{"t":2015.865,"v":-0.0395},{"t":2015.885,"v":-0.0415},
{"t":2015.905,"v":-0.039},{"t":2015.925,"v":-0.036},{"t":2015.945,"v":-0.0405},{"t":2015.965,"v":-0.0375},{"t":2015.985,"v":-0.0365},
{"t":2016.005,"v":-0.036},{"t":2016.025,"v":-0.0385},{"t":2016.045,"v":-0.0345},{"t":2016.065,"v":-0.0375},{"t":2016.085,"v":-0.0395},
{"t":2016.105,"v":-0.037},{"t":2016.125,"v":-0.034},{"t":2016.145,"v":-0.0385},{"t":2016.165,"v":-0.0355},{"t":2016.185,"v":-0.0345},
{"t":2016.205,"v":-0.034},{"t":2016.225,"v":-0.0365},{"t":2016.245,"v":-0.0325},{"t":2016.265,"v":-0.0355},{"t":2016.285,"v":-0.0375},
{"t":2016.305,"v":-0.035},{"t":2016.325,"v":-0.032},{"t":2016.345,"v":-0.0365},{"t":2016.365,"v":-0.0335},{"t":2016.385,"v":-0.0325},
{"t":2016.405,"v":-0.031},{"t":2016.425,"v":-0.0335},{"t":2016.445,"v":-0.0295},{"t":2016.465,"v":-0.0325},{"t":2016.485,"v":-0.0345},
{"t":2016.505,"v":-0.031},{"t":2016.525,"v":-0.028},{"t":2016.545,"v":-0.0325},{"t":2016.565,"v":-0.0295},{"t":2016.585,"v":-0.0285},
{"t":2016.605,"v":-0.027},{"t":2016.625,"v":-0.0295},{"t":2016.645,"v":-0.0255},{"t":2016.665,"v":-0.0285},{"t":2016.685,"v":-0.0305},
{"t":2016.705,"v":-0.0265},{"t":2016.725,"v":-0.0235},{"t":2016.745,"v":-0.028},{"t":2016.765,"v":-0.025},{"t":2016.785,"v":-0.024},
{"t":2016.805,"v":-0.022},{"t":2016.825,"v":-0.0245},{"t":2016.845,"v":-0.0205},{"t":2016.865,"v":-0.0235},{"t":2016.885,"v":-0.0255},
{"t":2016.905,"v":-0.022},{"t":2016.925,"v":-0.019},{"t":2016.945,"v":-0.0235},{"t":2016.965,"v":-0.0205},{"t":2016.985,"v":-0.0195},
{"t":2017.005,"v":-0.0185},{"t":2017.025,"v":-0.021},{"t":2017.045,"v":-0.017},{"t":2017.065,"v":-0.020},{"t":2017.085,"v":-0.022},
{"t":2017.105,"v":-0.0195},{"t":2017.125,"v":-0.0165},{"t":2017.145,"v":-0.021},{"t":2017.165,"v":-0.018},{"t":2017.185,"v":-0.017},
{"t":2017.205,"v":-0.017},{"t":2017.225,"v":-0.0195},{"t":2017.245,"v":-0.0155},{"t":2017.265,"v":-0.0185},{"t":2017.285,"v":-0.0205},
{"t":2017.305,"v":-0.0185},{"t":2017.325,"v":-0.0155},{"t":2017.345,"v":-0.020},{"t":2017.365,"v":-0.017},{"t":2017.385,"v":-0.016},
{"t":2017.405,"v":-0.016},{"t":2017.425,"v":-0.0185},{"t":2017.445,"v":-0.0145},{"t":2017.465,"v":-0.0175},{"t":2017.485,"v":-0.0195},
{"t":2017.505,"v":-0.0175},{"t":2017.525,"v":-0.0145},{"t":2017.545,"v":-0.019},{"t":2017.565,"v":-0.016},{"t":2017.585,"v":-0.015},
{"t":2017.605,"v":-0.0145},{"t":2017.625,"v":-0.017},{"t":2017.645,"v":-0.013},{"t":2017.665,"v":-0.016},{"t":2017.685,"v":-0.018},
{"t":2017.705,"v":-0.015},{"t":2017.725,"v":-0.012},{"t":2017.745,"v":-0.0165},{"t":2017.765,"v":-0.0135},{"t":2017.785,"v":-0.0125},
{"t":2017.805,"v":-0.0115},{"t":2017.825,"v":-0.014},{"t":2017.845,"v":-0.010},{"t":2017.865,"v":-0.013},{"t":2017.885,"v":-0.015},
{"t":2017.905,"v":-0.012},{"t":2017.925,"v":-0.009},{"t":2017.945,"v":-0.0135},{"t":2017.965,"v":-0.0105},{"t":2017.985,"v":-0.0095},
{"t":2018.005,"v":-0.0085},{"t":2018.025,"v":-0.011},{"t":2018.045,"v":-0.007},{"t":2018.065,"v":-0.010},{"t":2018.085,"v":-0.012},
{"t":2018.105,"v":-0.010},{"t":2018.125,"v":-0.007},{"t":2018.145,"v":-0.0115},{"t":2018.165,"v":-0.0085},{"t":2018.185,"v":-0.0075},
{"t":2018.205,"v":-0.0075},{"t":2018.225,"v":-0.010},{"t":2018.245,"v":-0.006},{"t":2018.265,"v":-0.009},{"t":2018.285,"v":-0.011},
{"t":2018.305,"v":-0.0095},{"t":2018.325,"v":-0.0065},{"t":2018.345,"v":-0.011},{"t":2018.365,"v":-0.008},{"t":2018.385,"v":-0.007},
{"t":2018.405,"v":-0.0075},{"t":2018.425,"v":-0.010},{"t":2018.445,"v":-0.006},{"t":2018.465,"v":-0.009},{"t":2018.485,"v":-0.011},
{"t":2018.505,"v":-0.010},{"t":2018.525,"v":-0.007},{"t":2018.545,"v":-0.0115},{"t":2018.565,"v":-0.0085},{"t":2018.585,"v":-0.0075},
{"t":2018.605,"v":-0.008},{"t":2018.625,"v":-0.0105},{"t":2018.645,"v":-0.0065},{"t":2018.665,"v":-0.0095},{"t":2018.685,"v":-0.0115},
{"t":2018.705,"v":-0.009},{"t":2018.725,"v":-0.006},{"t":2018.745,"v":-0.0105},{"t":2018.765,"v":-0.0075},{"t":2018.785,"v":-0.0065},
{"t":2018.805,"v":-0.0055},{"t":2018.825,"v":-0.008},{"t":2018.845,"v":-0.004},{"t":2018.865,"v":-0.007},{"t":2018.885,"v":-0.009},
{"t":2018.905,"v":-0.006},{"t":2018.925,"v":-0.003},{"t":2018.945,"v":-0.0075},{"t":2018.965,"v":-0.0045},{"t":2018.985,"v":-0.0035},
{"t":2019.005,"v":-0.003},{"t":2019.025,"v":-0.0055},{"t":2019.045,"v":-0.0015},{"t":2019.065,"v":-0.0045},{"t":2019.085,"v":-0.0065},
{"t":2019.105,"v":-0.0045},{"t":2019.125,"v":-0.0015},{"t":2019.145,"v":-0.006},{"t":2019.165,"v":-0.003},{"t":2019.185,"v":-0.002},
{"t":2019.205,"v":-0.0025},{"t":2019.225,"v":-0.005},{"t":2019.245,"v":-0.001},{"t":2019.265,"v":-0.004},{"t":2019.285,"v":-0.006},
{"t":2019.305,"v":-0.0045},{"t":2019.325,"v":-0.0015},{"t":2019.345,"v":-0.006},{"t":2019.365,"v":-0.003},{"t":2019.385,"v":-0.002},
{"t":2019.405,"v":-0.002},{"t":2019.425,"v":-0.0045},{"t":2019.445,"v":-0.0005},{"t":2019.465,"v":-0.0035},{"t":2019.485,"v":-0.0055},
{"t":2019.505,"v":-0.004},{"t":2019.525,"v":-0.001},{"t":2019.545,"v":-0.0055},{"t":2019.565,"v":-0.0025},{"t":2019.585,"v":-0.0015},
{"t":2019.605,"v":-0.0015},{"t":2019.625,"v":-0.004},{"t":2019.645,"v":0.0},{"t":2019.665,"v":-0.003},{"t":2019.685,"v":-0.005},
{"t":2019.705,"v":-0.003},{"t":2019.725,"v":0.0},{"t":2019.745,"v":-0.0045},{"t":2019.765,"v":-0.0015},{"t":2019.785,"v":-0.0005},
{"t":2019.805,"v":0.0},{"t":2019.825,"v":-0.0025},{"t":2019.845,"v":0.0015},{"t":2019.865,"v":-0.0015},{"t":2019.885,"v":-0.0035},
{"t":2019.905,"v":-0.001},{"t":2019.925,"v":0.002},{"t":2019.945,"v":-0.0025},{"t":2019.965,"v":0.0005},{"t":2019.985,"v":0.0015},
{"t":2020.005,"v":0.002},{"t":2020.025,"v":-0.0005},{"t":2020.045,"v":0.0035},{"t":2020.065,"v":0.0005},{"t":2020.085,"v":-0.0015},
{"t":2020.105,"v":0.001},{"t":2020.125,"v":0.004},{"t":2020.145,"v":-0.0005},{"t":2020.165,"v":0.0025},{"t":2020.185,"v":0.0035},
{"t":2020.205,"v":0.0035},{"t":2020.225,"v":0.001},{"t":2020.245,"v":0.005},{"t":2020.265,"v":0.002},{"t":2020.285,"v":0.0},
{"t":2020.305,"v":0.002},{"t":2020.325,"v":0.005},{"t":2020.345,"v":0.0005},{"t":2020.365,"v":0.0035},{"t":2020.385,"v":0.0045},
{"t":2020.405,"v":0.0045},{"t":2020.425,"v":0.002},{"t":2020.445,"v":0.006},{"t":2020.465,"v":0.003},{"t":2020.485,"v":0.001},
{"t":2020.505,"v":0.0025},{"t":2020.525,"v":0.0055},{"t":2020.545,"v":0.001},{"t":2020.565,"v":0.004},{"t":2020.585,"v":0.005},
{"t":2020.605,"v":0.005},{"t":2020.625,"v":0.0025},{"t":2020.645,"v":0.0065},{"t":2020.665,"v":0.0035},{"t":2020.685,"v":0.0015},
{"t":2020.705,"v":0.0035},{"t":2020.725,"v":0.0065},{"t":2020.745,"v":0.002},{"t":2020.765,"v":0.005},{"t":2020.785,"v":0.006},
{"t":2020.805,"v":0.006},{"t":2020.825,"v":0.0035},{"t":2020.845,"v":0.0075},{"t":2020.865,"v":0.0045},{"t":2020.885,"v":0.0025},
{"t":2020.905,"v":0.0045},{"t":2020.925,"v":0.0075},{"t":2020.945,"v":0.003},{"t":2020.965,"v":0.006},{"t":2020.985,"v":0.007},
{"t":2021.005,"v":0.0075},{"t":2021.025,"v":0.005},{"t":2021.045,"v":0.009},{"t":2021.065,"v":0.006},{"t":2021.085,"v":0.004},
{"t":2021.105,"v":0.006},{"t":2021.125,"v":0.009},{"t":2021.145,"v":0.0045},{"t":2021.165,"v":0.0075},{"t":2021.185,"v":0.0085},
{"t":2021.205,"v":0.008},{"t":2021.225,"v":0.0055},{"t":2021.245,"v":0.0095},{"t":2021.265,"v":0.0065},{"t":2021.285,"v":0.0045},
{"t":2021.305,"v":0.006},{"t":2021.325,"v":0.009},{"t":2021.345,"v":0.0045},{"t":2021.365,"v":0.0075},{"t":2021.385,"v":0.0085},
{"t":2021.405,"v":0.008},{"t":2021.425,"v":0.0055},{"t":2021.445,"v":0.0095},{"t":2021.465,"v":0.0065},{"t":2021.485,"v":0.0045},
{"t":2021.505,"v":0.0065},{"t":2021.525,"v":0.0095},{"t":2021.545,"v":0.005},{"t":2021.565,"v":0.008},{"t":2021.585,"v":0.009},
{"t":2021.605,"v":0.009},{"t":2021.625,"v":0.0065},{"t":2021.645,"v":0.0105},{"t":2021.665,"v":0.0075},{"t":2021.685,"v":0.0055},
{"t":2021.705,"v":0.0085},{"t":2021.725,"v":0.0115},{"t":2021.745,"v":0.007},{"t":2021.765,"v":0.010},{"t":2021.785,"v":0.011},
{"t":2021.805,"v":0.012},{"t":2021.825,"v":0.0095},{"t":2021.845,"v":0.0135},{"t":2021.865,"v":0.0105},{"t":2021.885,"v":0.0085},
{"t":2021.905,"v":0.0115},{"t":2021.925,"v":0.0145},{"t":2021.945,"v":0.010},{"t":2021.965,"v":0.013},{"t":2021.985,"v":0.014},
{"t":2022.005,"v":0.015},{"t":2022.025,"v":0.0125},{"t":2022.045,"v":0.0165},{"t":2022.065,"v":0.0135},{"t":2022.085,"v":0.0115},
{"t":2022.105,"v":0.014},{"t":2022.125,"v":0.017},{"t":2022.145,"v":0.0125},{"t":2022.165,"v":0.0155},{"t":2022.185,"v":0.0165},
{"t":2022.205,"v":0.016},{"t":2022.225,"v":0.0135},{"t":2022.245,"v":0.0175},{"t":2022.265,"v":0.0145},{"t":2022.285,"v":0.0125},
{"t":2022.305,"v":0.014},{"t":2022.325,"v":0.017},{"t":2022.345,"v":0.0125},{"t":2022.365,"v":0.0155},{"t":2022.385,"v":0.0165},
{"t":2022.405,"v":0.0165},{"t":2022.425,"v":0.014},{"t":2022.445,"v":0.018},{"t":2022.465,"v":0.015},{"t":2022.485,"v":0.013},
{"t":2022.505,"v":0.0145},{"t":2022.525,"v":0.0175},{"t":2022.545,"v":0.013},{"t":2022.565,"v":0.016},{"t":2022.585,"v":0.017},
{"t":2022.605,"v":0.017},{"t":2022.625,"v":0.0145},{"t":2022.645,"v":0.0185},{"t":2022.665,"v":0.0155},{"t":2022.685,"v":0.0135},
{"t":2022.705,"v":0.0155},{"t":2022.725,"v":0.0185},{"t":2022.745,"v":0.014},{"t":2022.765,"v":0.017},{"t":2022.785,"v":0.018},
{"t":2022.805,"v":0.018},{"t":2022.825,"v":0.0155},{"t":2022.845,"v":0.0195},{"t":2022.865,"v":0.0165},{"t":2022.885,"v":0.0145},
{"t":2022.905,"v":0.0165},{"t":2022.925,"v":0.0195},{"t":2022.945,"v":0.015},{"t":2022.965,"v":0.018},{"t":2022.985,"v":0.019},
{"t":2023.005,"v":0.019},{"t":2023.025,"v":0.0165},{"t":2023.045,"v":0.0205},{"t":2023.065,"v":0.0175},{"t":2023.085,"v":0.0155},
{"t":2023.105,"v":0.0175},{"t":2023.125,"v":0.0205},{"t":2023.145,"v":0.016},{"t":2023.165,"v":0.019},{"t":2023.185,"v":0.020},
{"t":2023.205,"v":0.0205},{"t":2023.225,"v":0.018},{"t":2023.245,"v":0.022},{"t":2023.265,"v":0.019},{"t":2023.285,"v":0.017},
{"t":2023.305,"v":0.0195},{"t":2023.325,"v":0.0225},{"t":2023.345,"v":0.018},{"t":2023.365,"v":0.021},{"t":2023.385,"v":0.022},
{"t":2023.405,"v":0.022},{"t":2023.425,"v":0.0195},{"t":2023.445,"v":0.0235},{"t":2023.465,"v":0.0205},{"t":2023.485,"v":0.0185},
{"t":2023.505,"v":0.021},{"t":2023.525,"v":0.024},{"t":2023.545,"v":0.0195},{"t":2023.565,"v":0.0225},{"t":2023.585,"v":0.0235},
{"t":2023.605,"v":0.0235},{"t":2023.625,"v":0.021},{"t":2023.645,"v":0.025},{"t":2023.665,"v":0.022},{"t":2023.685,"v":0.020},
{"t":2023.705,"v":0.0225},{"t":2023.725,"v":0.0255},{"t":2023.745,"v":0.021},{"t":2023.765,"v":0.024},{"t":2023.785,"v":0.025},
{"t":2023.805,"v":0.0255},{"t":2023.825,"v":0.023},{"t":2023.845,"v":0.027},{"t":2023.865,"v":0.024},{"t":2023.885,"v":0.022},
{"t":2023.905,"v":0.0245},{"t":2023.925,"v":0.0275},{"t":2023.945,"v":0.023},{"t":2023.965,"v":0.026},{"t":2023.985,"v":0.027},
{"t":2024.005,"v":0.0275},{"t":2024.025,"v":0.025},{"t":2024.045,"v":0.029},{"t":2024.065,"v":0.026},{"t":2024.085,"v":0.024},
{"t":2024.105,"v":0.026},{"t":2024.125,"v":0.029},{"t":2024.145,"v":0.0245},{"t":2024.165,"v":0.0275},{"t":2024.185,"v":0.0285},
{"t":2024.205,"v":0.0275},{"t":2024.225,"v":0.025},{"t":2024.245,"v":0.029},{"t":2024.265,"v":0.026},{"t":2024.285,"v":0.024},
{"t":2024.305,"v":0.0245},{"t":2024.325,"v":0.0275},{"t":2024.345,"v":0.023},{"t":2024.365,"v":0.026},{"t":2024.385,"v":0.027},
{"t":2024.405,"v":0.026},{"t":2024.425,"v":0.0235},{"t":2024.445,"v":0.0275},{"t":2024.465,"v":0.0245},{"t":2024.485,"v":0.0225},
{"t":2024.505,"v":0.0235},{"t":2024.525,"v":0.0265},{"t":2024.545,"v":0.022},{"t":2024.565,"v":0.025},{"t":2024.585,"v":0.026},
{"t":2024.595,"v":0.025},{"t":2024.625,"v":0.0415},{"t":2024.645,"v":0.0345},{"t":2024.665,"v":0.0385},{"t":2024.685,"v":0.037},{"t":2024.695,"v":0.0425},
{"t":2024.705,"v":0.041},{"t":2024.725,"v":0.0385},{"t":2024.745,"v":0.0425},{"t":2024.765,"v":0.0395},{"t":2024.785,"v":0.0375},
{"t":2024.805,"v":0.040},{"t":2024.825,"v":0.043},{"t":2024.845,"v":0.0385},{"t":2024.865,"v":0.0415},{"t":2024.885,"v":0.0425},
{"t":2024.905,"v":0.044},{"t":2024.925,"v":0.0415},{"t":2024.945,"v":0.0455},{"t":2024.965,"v":0.0425},{"t":2024.985,"v":0.0405},
{"t":2025.005,"v":0.045},{"t":2025.025,"v":0.048},{"t":2025.045,"v":0.0435},{"t":2025.065,"v":0.0465},{"t":2025.085,"v":0.0475},
{"t":2025.105,"v":0.0485},{"t":2025.125,"v":0.046},{"t":2025.145,"v":0.050},{"t":2025.165,"v":0.047},{"t":2025.185,"v":0.045},
{"t":2025.205,"v":0.0475},{"t":2025.225,"v":0.0505},{"t":2025.245,"v":0.046},{"t":2025.265,"v":0.049},{"t":2025.285,"v":0.050},
{"t":2025.305,"v":0.0505},{"t":2025.325,"v":0.048},{"t":2025.345,"v":0.052},{"t":2025.365,"v":0.049},
{"t":2015.21,"v":-0.0385},{"t":2015.30,"v":-0.0508},{"t":2015.48,"v":-0.0323},{"t":2015.62,"v":-0.0308},{"t":2015.75,"v":-0.0304},
{"t":2016.11,"v":-0.0277},{"t":2016.18,"v":-0.0404},{"t":2016.27,"v":-0.0242},{"t":2016.35,"v":-0.0246},{"t":2016.53,"v":-0.0188},
{"t":2016.66,"v":-0.010},{"t":2016.66,"v":-0.0142},{"t":2016.67,"v":-0.017},{"t":2016.82,"v":-0.0165},
{"t":2017.10,"v":-0.025},{"t":2017.13,"v":-0.0115},{"t":2017.35,"v":-0.012},{"t":2017.45,"v":-0.010},{"t":2017.59,"v":-0.0012},
{"t":2017.59,"v":-0.023},{"t":2017.70,"v":-0.0058},{"t":2017.82,"v":-0.0042},{"t":2018.21,"v":-0.0015},{"t":2018.44,"v":-0.0012},
{"t":2018.74,"v":0.002},{"t":2018.75,"v":-0.0142},{"t":2018.95,"v":0.0035},{"t":2019.04,"v":0.0015},{"t":2019.12,"v":0.0027},
{"t":2019.31,"v":0.0042},{"t":2019.32,"v":-0.0088},{"t":2019.44,"v":0.0096},{"t":2019.52,"v":0.0077},{"t":2019.59,"v":-0.0104},
{"t":2019.59,"v":-0.0138},{"t":2019.61,"v":0.0035},{"t":2019.67,"v":-0.0142},{"t":2019.69,"v":-0.0104},{"t":2019.74,"v":0.0035},
{"t":2019.85,"v":0.005},{"t":2019.92,"v":0.0069},{"t":2019.95,"v":0.0096},{"t":2020.02,"v":0.0065},{"t":2020.18,"v":0.0135},
{"t":2020.45,"v":0.0138},{"t":2020.49,"v":0.011},{"t":2020.60,"v":-0.0023},{"t":2020.66,"v":0.010},{"t":2020.67,"v":-0.0023},
{"t":2020.88,"v":0.0115},{"t":2021.04,"v":0.011},{"t":2021.20,"v":0.013},{"t":2021.38,"v":0.015},{"t":2021.52,"v":0.0227},
{"t":2021.56,"v":-0.002},{"t":2021.61,"v":0.0008},{"t":2022.14,"v":0.021},{"t":2022.20,"v":0.020},{"t":2022.32,"v":0.0092},
{"t":2022.42,"v":0.026},{"t":2022.53,"v":0.025},{"t":2022.56,"v":0.0054},{"t":2022.64,"v":0.024},{"t":2022.71,"v":0.0069},
{"t":2022.85,"v":0.0235},{"t":2023.07,"v":0.022},{"t":2023.84,"v":0.032},{"t":2023.96,"v":0.034},{"t":2024.23,"v":0.036},
{"t":2024.26,"v":0.0408},{"t":2024.30,"v":0.034},{"t":2024.35,"v":0.032},{"t":2024.45,"v":0.0173},{"t":2024.49,"v":0.0335},
{"t":2024.51,"v":-0.0235},{"t":2024.65,"v":0.0527},{"t":2024.75,"v":0.036},{"t":2025.20,"v":0.042},
{"t":2025.372,"v":0.0545,"k":"q"},{"t":2025.376,"v":0.053,"k":"q"}
]},
"data":{"name":"d"},
"layer":[
{"transform":[{"filter":"datum.k !== 'q'"}],
 "mark":{"type":"circle","size":100,"color":"black","opacity":1,"clip":true},
 "encoding":{
  "x":{"field":"t","type":"quantitative","scale":{"domain":[2015.0,2025.38],"nice":false,"zero":false},
   "axis":{"orient":"bottom","title":null,"domain":false,
    "values":[2015.5,2016,2016.5,2017,2017.5,2018,2018.5,2019,2019.5,2020,2020.5,2021,2021.5,2022,2022.5,2023,2023.5,2024,2024.5,2025],
    "labelExpr":"datum.value % 1 == 0 ? format(datum.value,'d') : ''",
    "labelOverlap":false,"labelFlush":false,"labelFont":"Liberation Sans","labelFontSize":25,"labelColor":"black","labelPadding":18,
    "tickSize":-8,"tickWidth":2.5,"tickColor":"black",
    "grid":true,"gridColor":"black","gridWidth":1,"gridDash":[3,2],
    "gridOpacity":{"condition":{"test":"datum.value % 1 == 0","value":1},"value":0}}},
  "y":{"field":"v","type":"quantitative","scale":{"domain":[-0.08,0.08],"nice":false,"zero":false},
   "axis":{"orient":"left","domain":false,
    "values":[-0.08,-0.07,-0.06,-0.05,-0.04,-0.03,-0.02,-0.01,0,0.01,0.02,0.03,0.04,0.05,0.06,0.07,0.08],
    "format":".2f",
    "labelExpr":"abs(round(datum.value*100)) % 2 == 0 ? datum.label : ''",
    "labelOverlap":false,"labelFlush":false,"labelFont":"Liberation Sans","labelFontSize":25,"labelColor":"black","labelPadding":34,
    "tickSize":{"condition":{"test":"abs(round(datum.value*100)) % 2 == 0","value":-17},"value":-11},
    "tickWidth":2.5,"tickColor":"black",
    "grid":true,"gridColor":"black","gridWidth":1,"gridDash":[3,2],
    "gridOpacity":{"condition":{"test":"abs(round(datum.value*100)) % 2 == 0","value":1},"value":0},
    "title":"(m)","titleAngle":0,"titleAlign":"left","titleBaseline":"alphabetic","titleX":-75,"titleY":-18,
    "titleFont":"Liberation Sans","titleFontSize":25,"titleFontWeight":"normal","titleColor":"black"}}
 }},
{"transform":[{"filter":"datum.k === 'q'"}],
 "mark":{"type":"point","shape":"circle","size":60,"filled":true,"fill":"white","stroke":"#444","strokeWidth":1,"clip":true},
 "encoding":{
  "x":{"field":"t","type":"quantitative",
   "axis":{"orient":"top","domain":false,"labels":false,"grid":false,
    "values":[2015.5,2016,2016.5,2017,2017.5,2018,2018.5,2019,2019.5,2020,2020.5,2021,2021.5,2022,2022.5,2023,2023.5,2024,2024.5,2025],
    "tickSize":-8,"tickWidth":2.5,"tickColor":"black",
    "title":"(8)　鹿児島郡山(960776)→鹿児島福山(950489)　斜距離","titleAlign":"left","titleBaseline":"alphabetic","titleX":5,"titleY":-18,
    "titleFont":"Noto Sans CJK JP","titleFontSize":25,"titleFontWeight":"normal","titleColor":"black","titleLimit":1200}},
  "y":{"field":"v","type":"quantitative",
   "axis":{"orient":"right","domain":false,"labels":false,"grid":false,
    "values":[-0.08,-0.07,-0.06,-0.05,-0.04,-0.03,-0.02,-0.01,0,0.01,0.02,0.03,0.04,0.05,0.06,0.07,0.08],
    "tickSize":{"condition":{"test":"abs(round(datum.value*100)) % 2 == 0","value":-17},"value":-9},
    "tickWidth":2.5,"tickColor":"black",
    "title":"基準値：35361.723m","titleAngle":0,"titleAlign":"right","titleBaseline":"alphabetic","titleX":-3,"titleY":-18,
    "titleFont":"Noto Sans CJK JP","titleFontSize":25,"titleFontWeight":"normal","titleColor":"black","titleLimit":600}}
 }}
],
"resolve":{"axis":{"x":"independent","y":"independent"}}
}
